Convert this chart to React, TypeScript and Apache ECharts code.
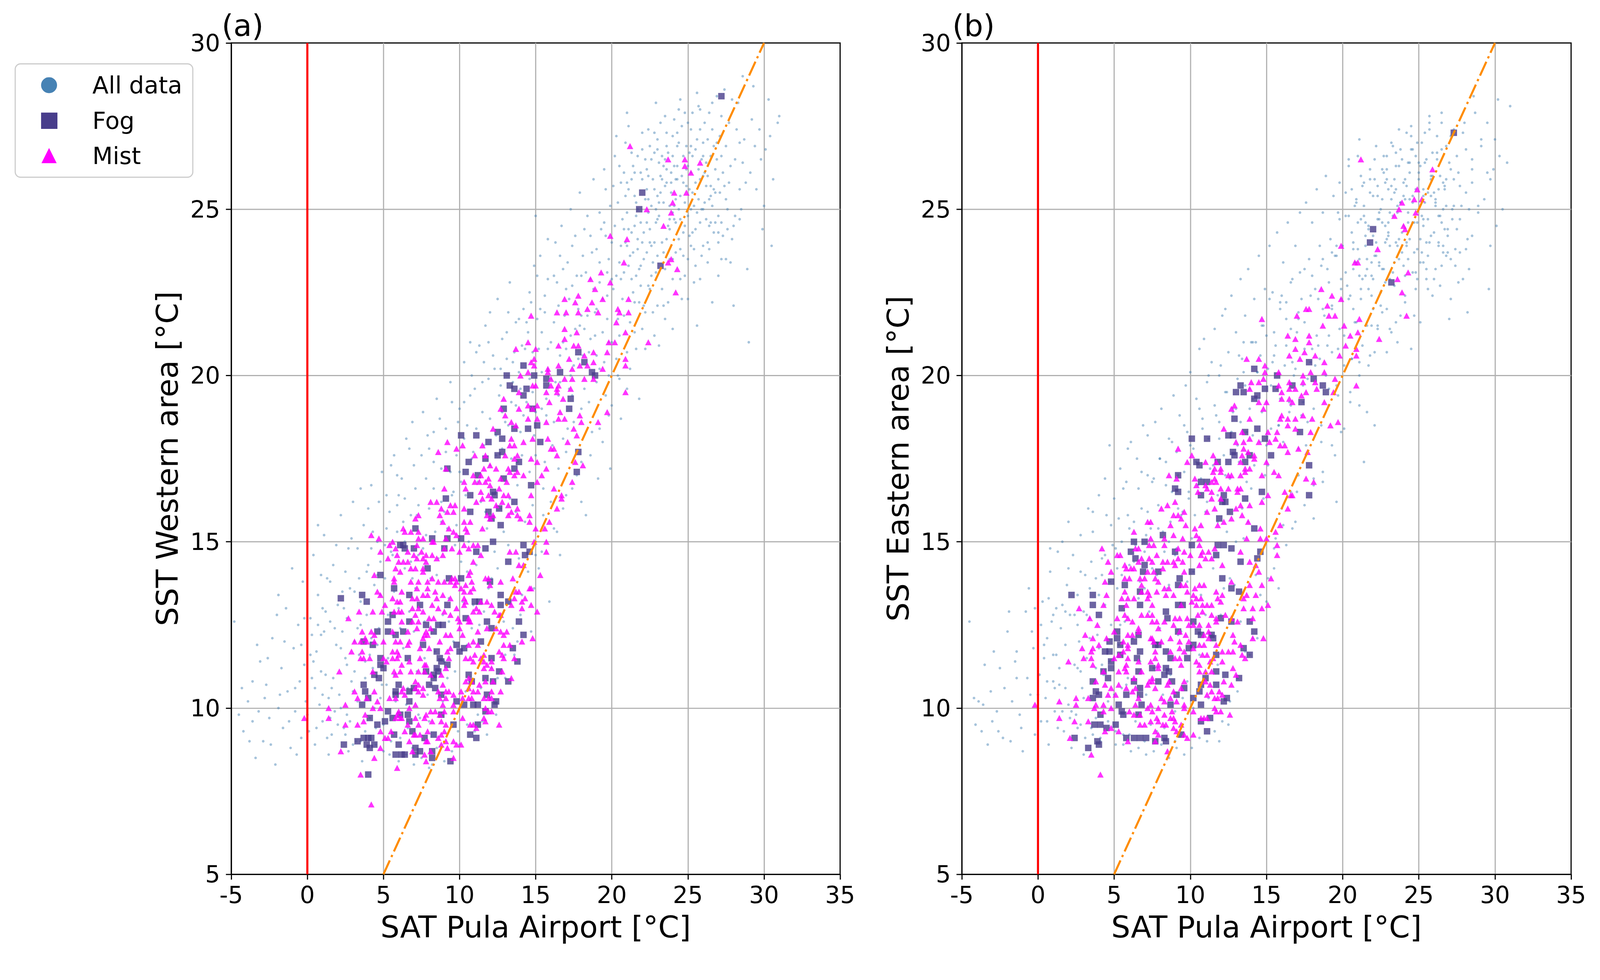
import React, { useEffect, useRef } from "react";
import * as echarts from "echarts";

// ---------- labels ----------
const panelTitles = ["(a)", "(b)"];
const xAxisName = "SAT Pula Airport [°C]";
const yAxisNames = ["SST Western area [°C]", "SST Eastern area [°C]"];
const legendNames = ["All data", "Fog", "Mist"];
const xRange = [-5, 35];
const yRange = [5, 30];
const tickStep = 5;

// ---------- reference lines ----------
const zeroLine = [[0, 5], [0, 30]];
const oneToOneLine = [[5, 5], [30, 30]];

// ---------- panel (a): all data ----------
const allA = [
[-4.8,12.6],[-4.5,9.8],[-4.2,9.3],[-3.9,10.2],[-3.6,9.6],[-3.4,8.5],[-3.1,11.4],[-2.9,9.0],[-2.7,10.7],[-2.5,9.7],[-2.3,12.1],[-2.1,8.3],[-1.9,10.0],[-1.7,11.2],[-1.6,9.4],[-1.4,13.0],[-1.3,10.5],[-1.1,8.8],[-0.9,11.8],[-0.8,9.9],[-0.6,12.5],[-0.5,10.8],[-0.4,9.1],[-0.3,13.8],[-0.2,11.3],[-0.1,10.2],[-2.0,12.8],[-3.3,11.9],[-1.0,14.2],[-0.7,8.6],
[0.1,9.3],[0.2,12.7],[0.3,10.9],[0.4,14.6],[0.5,8.9],[0.6,11.7],[0.7,13.4],[0.8,10.1],[0.9,12.2],[1.0,9.6],[1.1,15.2],[1.2,11.0],[1.3,13.9],[1.4,8.6],[1.5,12.6],[1.6,10.6],[1.7,14.3],[1.8,9.9],[1.9,11.9],[2.0,13.1],[0.4,11.4],[1.2,12.9],[1.6,9.2],[0.9,14.0],
[2.1,10.4],[2.2,15.8],[2.3,12.3],[2.4,9.4],[2.5,14.1],[2.6,11.3],[2.7,8.7],[2.8,13.6],[2.9,10.8],[3.0,16.2],[3.1,12.0],[3.2,9.0],[3.3,14.8],[3.4,11.6],[3.5,13.2],[3.6,8.4],[3.7,15.5],[3.8,10.9],[3.9,12.8],[4.0,14.3],[4.1,9.7],[4.2,16.7],[4.3,11.2],[4.4,13.7],[4.5,8.9],[4.6,15.0],[4.7,12.4],[4.8,10.3],[4.9,17.1],[2.4,13.0],[2.9,15.1],[3.3,10.2],[3.8,9.3],[4.2,12.1],[4.6,14.0],[3.1,11.1],[2.6,9.8],[4.0,16.0],[4.8,13.4],[3.5,12.5],[2.2,11.8],[4.4,10.0],
[5.0,9.5],[5.1,13.9],[5.2,16.4],[5.3,11.5],[5.4,8.6],[5.5,14.7],[5.6,12.2],[5.7,17.6],[5.8,10.2],[5.9,15.3],[6.0,13.0],[6.1,9.1],[6.2,16.9],[6.3,11.8],[6.4,14.2],[6.5,18.1],[6.6,10.6],[6.7,12.9],[6.8,15.8],[6.9,8.8],[7.0,17.3],[7.1,13.6],[7.2,11.1],[7.3,16.1],[7.4,9.7],[5.4,15.9],[5.9,17.0],[6.4,16.3],[6.9,18.6],[7.3,14.6],[5.2,10.7],[6.6,9.4],[7.0,12.3],[5.7,13.5],
[7.6,18.9],[7.7,12.6],[7.8,15.2],[7.9,10.4],[8.0,17.8],[8.1,13.9],[8.2,8.3],[8.3,16.6],[8.4,11.7],[8.5,19.3],[8.6,14.5],[8.7,9.8],[8.8,17.2],[8.9,12.8],[9.0,15.9],[9.1,18.4],[9.2,10.9],[9.3,13.3],[9.4,19.8],[9.5,16.4],[9.6,12.0],[9.7,14.9],[9.8,17.6],[9.9,9.3],[10.0,19.0],[7.8,16.9],[8.3,18.3],[8.8,15.6],[9.4,17.1],[9.8,15.5],[8.0,9.6],[9.0,11.4],
[10.1,16.8],[10.2,13.2],[10.3,20.4],[10.4,10.5],[10.5,18.5],[10.6,15.0],[10.7,21.0],[10.8,12.4],[10.9,17.7],[11.0,19.6],[11.1,14.3],[11.2,9.8],[11.3,20.9],[11.4,16.2],[11.5,18.9],[11.6,12.9],[11.7,21.5],[11.8,15.4],[11.9,19.9],[12.0,17.3],[12.1,11.2],[12.2,20.6],[12.3,14.7],[12.4,18.2],[10.3,19.2],[10.8,20.0],[11.1,18.4],[11.6,20.4],[12.0,21.9],[12.4,16.5],[10.5,14.1],[11.9,13.6],[11.4,10.6],
[12.5,22.3],[12.6,19.4],[12.7,16.0],[12.8,21.1],[12.9,12.6],[13.0,18.6],[13.1,20.5],[13.2,14.9],[13.3,22.8],[13.4,17.5],[13.5,19.8],[13.6,11.6],[13.7,21.6],[13.8,16.7],[13.9,20.1],[14.0,18.3],[14.1,13.4],[14.2,22.0],[14.3,15.6],[14.4,19.2],[14.5,21.3],[14.6,17.1],[14.7,12.3],[14.8,20.7],[14.9,23.3],[12.7,20.2],[13.2,21.9],[13.7,19.1],[14.1,20.9],[14.6,22.5],[13.9,14.5],[14.8,16.1],[12.8,17.8],
[15.0,18.9],[15.1,21.7],[15.2,14.2],[15.3,23.6],[15.4,20.1],[15.5,16.6],[15.6,22.4],[15.7,19.3],[15.8,24.1],[15.9,13.2],[16.0,21.0],[16.1,17.9],[16.2,23.0],[16.3,19.8],[16.4,15.3],[16.5,22.1],[16.6,20.6],[16.7,24.5],[16.8,18.1],[16.9,21.8],[17.0,16.4],[17.1,23.4],[17.2,19.6],[17.3,25.0],[17.4,22.7],[15.3,22.0],[15.8,20.8],[16.3,24.0],[16.8,23.2],[17.3,21.2],[15.6,17.4],[16.6,14.6],[17.1,18.4],[15.0,24.8],
[17.5,20.3],[17.6,24.2],[17.7,17.0],[17.8,22.0],[17.9,25.5],[18.0,19.0],[18.1,23.6],[18.2,21.4],[18.3,15.8],[18.4,24.8],[18.5,20.7],[18.6,22.9],[18.7,18.3],[18.8,25.9],[18.9,21.9],[19.0,23.8],[19.1,16.9],[19.2,20.2],[19.3,24.4],[19.4,22.3],[19.5,26.2],[19.6,19.4],[19.7,23.1],[19.8,21.0],[19.9,25.1],[17.7,23.0],[18.2,24.4],[18.7,23.7],[19.2,24.9],[19.7,22.4],[18.0,21.8],[19.4,18.0],[19.9,17.2],
[20.0,24.0],[20.1,22.6],[20.2,26.6],[20.3,20.5],[20.4,25.2],[20.5,23.4],[20.6,18.7],[20.7,24.7],[20.8,21.8],[20.9,27.0],[21.0,23.9],[21.1,25.6],[21.2,20.2],[21.3,24.3],[21.4,22.5],[21.5,26.1],[21.6,23.0],[21.7,25.0],[21.8,19.3],[21.9,24.6],[22.0,26.8],[22.1,22.1],[22.2,25.3],[22.3,23.7],[22.4,27.4],[20.2,24.5],[20.6,25.8],[21.0,24.9],[21.3,26.7],[21.7,24.1],[22.0,25.9],[22.4,24.9],[20.4,21.7],[21.5,21.3],[22.2,20.8],[20.8,23.1],[21.9,23.3],[22.3,26.2],[21.1,27.5],[20.5,19.9],
[22.5,24.4],[22.6,26.5],[22.7,21.9],[22.8,25.6],[22.9,23.1],[23.0,27.1],[23.1,24.8],[23.2,26.0],[23.3,22.6],[23.4,25.2],[23.5,27.8],[23.6,24.1],[23.7,26.7],[23.8,23.5],[23.9,25.5],[24.0,21.4],[24.1,26.3],[24.2,24.6],[24.3,27.3],[24.4,25.0],[24.5,22.9],[24.6,26.0],[24.7,24.3],[24.8,27.9],[24.9,25.7],[22.6,25.1],[23.0,25.4],[23.3,26.6],[23.6,25.8],[24.0,24.9],[24.3,25.9],[24.7,26.6],[22.8,24.0],[23.5,23.2],[24.2,23.7],[24.8,23.0],[23.1,20.9],[22.9,28.2],[24.5,28.3],[23.8,25.1],[24.1,27.7],[23.4,26.3],
[25.0,26.3],[25.1,24.2],[25.2,27.4],[25.3,25.5],[25.4,22.8],[25.5,26.8],[25.6,24.9],[25.7,28.1],[25.8,25.9],[25.9,23.6],[26.0,27.0],[26.1,25.2],[26.2,26.4],[26.3,24.0],[26.4,27.9],[26.5,25.7],[26.6,22.2],[26.7,26.9],[26.8,24.6],[26.9,28.4],[27.0,25.9],[27.1,27.2],[27.2,23.5],[27.3,26.1],[27.4,28.6],[25.3,26.6],[25.8,27.4],[26.3,26.0],[26.8,25.5],[25.6,21.5],[26.0,25.0],[25.2,25.0],[27.2,24.6],
[27.5,25.3],[27.7,27.6],[27.9,24.1],[28.1,26.5],[28.3,28.2],[28.5,25.0],[28.7,27.1],[28.9,23.2],[29.1,26.1],[29.3,28.7],[29.5,25.6],[29.7,27.4],[29.9,24.4],[30.1,26.8],[30.3,28.3],[30.6,25.9],[30.9,27.6],[28.0,22.1],[29.0,21.0],[30.5,23.9],[31.0,27.8],[28.6,29.0],
[19.2,22.8],[19.5,24.6],[19.8,23.5],[20.1,25.7],[20.3,23.0],[20.5,26.3],[20.7,22.3],[20.9,25.4],[21.1,23.3],[21.3,25.9],[21.5,24.5],[21.7,26.6],[21.9,22.7],[22.1,24.3],[22.3,25.6],[22.5,26.9],[22.7,23.4],[22.9,25.0],[23.1,26.4],[23.3,24.0],[23.5,25.7],[23.7,22.2],[23.9,26.1],[24.1,24.7],[24.3,26.9],[24.5,25.4],[24.7,23.6],[24.9,26.9],[25.1,25.6],[25.3,27.9],[25.5,24.4],[25.7,26.2],[25.9,25.0],[26.1,27.6],[26.3,23.4],[26.5,26.6],[26.7,24.3],[26.9,27.0],[27.1,25.5],[27.3,24.2],[27.5,26.9],[27.7,25.8],[27.9,28.3],[28.1,24.8],[28.4,27.0],[20.0,21.0],[20.6,23.9],[21.2,21.6],[21.8,22.2],[22.4,22.7],[23.0,23.6],[23.6,26.9],[24.2,25.3],[24.8,24.5],[25.4,23.8],[26.0,26.0],[26.6,25.1],[27.2,26.6],[22.0,27.3],[23.2,27.6],[24.4,28.0],[25.6,28.5],[21.4,23.7],[22.6,23.9],[23.8,24.4],[25.0,24.8],[26.2,24.7],[20.8,26.1],[21.6,25.2],[22.8,26.7],[24.0,26.6],[25.2,26.1],[26.4,25.3],[27.6,24.4],[28.8,25.8],[29.4,26.9],[30.0,25.1],[19.6,25.6],[20.3,27.2],[21.0,27.9],[19.0,22.0],[18.6,24.2],[18.3,23.1],[17.9,21.5],[17.4,23.9],[17.0,22.6],[16.6,23.6],[16.2,21.6],[15.8,22.9],[15.4,21.3],[15.1,23.0],[14.7,22.2],[14.3,20.8],[13.9,21.7],[13.5,20.4],[13.1,21.3],[12.7,19.7],[12.3,20.2],[11.9,21.0],[11.5,19.8],[11.1,20.7],[10.7,19.4],[10.3,18.1],[9.9,18.6],[9.5,19.2],[9.1,17.7],[8.7,18.7],[8.3,17.4],[7.9,18.2],[7.5,17.6],[7.1,16.6],[6.7,17.8],[6.3,15.6],[5.9,16.1],[5.5,17.3],[5.1,14.9],[4.7,16.2],[4.3,15.3],[3.9,14.1],[3.5,16.6],[3.1,13.5],[2.7,14.8],[2.3,13.5],[1.9,14.9],[1.5,13.8],[1.1,12.3],[0.7,15.5],[0.3,12.2],
[16.0,16.2],[16.5,17.2],[17.0,17.7],[17.5,18.6],[18.0,17.4],[18.5,19.2],[19.0,19.8],[19.5,20.4],[20.0,19.1],[20.5,21.2],[21.0,20.7],[21.5,22.2],[22.0,21.4],[22.5,22.6],[23.0,22.1],[23.5,21.7],[24.0,22.9],[24.5,23.8],[25.0,22.3],[25.5,23.3],[26.0,23.9],[26.5,24.6],[27.0,23.0],[27.5,23.5],[28.0,24.5],[15.5,15.8],[15.0,14.6],[14.5,14.1],[14.0,12.8],[13.5,12.4],[13.0,11.6],[12.5,10.9],[12.0,10.3],[11.5,9.6],[11.0,9.3],[10.5,9.5],[10.0,8.9],[9.5,8.7],[9.0,8.4],[8.5,8.8],[8.0,8.2],[7.5,8.5],[7.0,8.3],[6.5,8.6],[6.0,8.4],[5.5,9.0],[5.0,8.7],[4.5,9.4],[4.0,8.8],[3.5,9.0],[3.0,8.9],[2.5,9.2],[2.0,9.5],[1.5,9.7],[1.0,10.4],[0.5,10.6],
[5.3,12.8],[6.1,12.4],[6.9,13.9],[7.7,11.5],[8.5,14.0],[9.3,12.6],[10.1,14.4],[10.9,13.1],[11.7,15.9],[12.5,14.2],[13.3,16.3],[14.1,17.6],[14.9,18.2],[15.7,18.8],[16.5,19.4],[17.3,20.0],[18.1,20.6],[18.9,21.2],[19.7,21.7],[4.1,11.6],[4.9,10.7],[5.7,11.0],[6.5,10.1],[7.3,9.8],[8.1,10.7],[8.9,10.2],[9.7,11.1],[10.5,11.9],[11.3,12.5],[12.1,13.9],[12.9,15.3],[13.7,15.9],[3.3,12.4],[2.5,11.5],[1.7,10.9],[0.9,11.1],
[20.6,22.9],[20.8,24.4],[21.0,25.8],[21.2,23.6],[21.4,26.3],[21.6,24.8],[21.8,23.2],[22.0,24.0],[22.2,26.5],[22.4,25.3],[22.6,23.0],[22.8,27.3],[23.0,24.7],[23.2,25.5],[23.4,23.7],[23.6,26.2],[23.8,24.7],[24.0,27.2],[24.2,25.9],[24.4,24.1],[24.6,27.5],[24.8,25.2],[25.0,23.5],[25.2,26.9],[25.4,25.1],[25.6,27.1],[25.8,24.6],[26.0,26.6],[26.2,25.7],[26.4,24.5],[26.6,27.4],[26.8,26.2],[27.0,24.8],[27.2,27.8],[27.4,25.7],[21.1,24.4],[21.5,25.4],[21.9,26.1],[22.3,24.6],[22.7,25.9],[23.1,25.2],[23.5,26.5],[23.9,25.8],[24.3,26.3],[24.7,25.8],[25.1,26.7],[25.5,25.8],[25.9,26.5],[26.3,27.1],[26.7,25.6],[22.1,23.5],[22.5,24.0],[22.9,24.6],[23.3,25.9],[23.7,24.5],[24.1,25.1],[24.5,24.7],[24.9,26.2],[25.3,24.3],[25.7,25.3],[26.1,26.1],[26.5,25.4],[26.9,26.5],[20.9,24.0],[21.3,22.9],[21.7,23.8],[22.4,26.0],[23.0,26.8],[23.6,27.3],[24.4,27.0],[25.0,27.6],[25.8,28.0],[26.6,28.2],[27.8,26.3],[28.2,27.4],[28.6,26.4],[29.2,27.7],[29.8,26.5],[30.4,27.2],[27.0,24.3],[27.6,25.0],[28.4,25.6],
[13.2,18.5],[13.6,20.7],[14.0,19.6],[14.4,21.6],[14.8,19.5],[15.2,20.8],[15.6,21.9],[16.0,19.9],[16.4,22.8],[16.8,21.0],[17.2,22.3],[17.6,21.4],[18.0,23.0],[18.4,21.8],[18.8,22.6],[19.2,23.4],[19.6,24.2],[20.0,22.9],[13.4,19.2],[13.8,17.4],[14.2,18.8],[14.6,19.9],[15.0,17.6],[15.4,19.0],[15.8,20.2],[16.2,18.6],[16.6,19.8],[17.0,20.8],[17.4,19.4],[17.8,20.5],[18.2,19.6],[18.6,21.1],[19.0,20.6],[19.4,21.3],[19.8,20.0],[12.4,17.6],[12.8,18.9],[11.6,17.9],[12.0,18.7],[11.2,16.8],[10.8,17.5],[10.4,16.4],[10.0,17.1],[9.6,16.5],[9.2,15.4],[8.8,16.2],[8.4,15.3],[8.0,16.0],[7.6,14.8],[7.2,15.8],[6.8,14.4],[6.4,15.0],[6.0,16.4],[5.6,14.6],[5.2,15.4],[4.8,14.4],
[-4.3,10.6],[-3.8,9.0],[-3.2,9.9],[-2.8,10.3],[-2.4,8.9],[-1.8,10.4],[-1.5,12.0],[-1.2,9.6],[-0.8,10.6],[-0.4,11.9],[0.0,9.8],[0.2,11.6],[0.6,9.4],[1.0,13.0],[1.4,10.3],[1.8,12.4],[2.2,10.0],[2.6,12.7],[3.0,10.5],[3.4,13.9],[3.8,11.4],[4.2,14.8],[4.6,11.9],[1.3,9.1],[2.8,9.6],[0.7,12.5],[-0.2,12.7],[-2.6,11.5],[-3.6,10.8],[-1.9,13.4],
[14.9,13.6],[15.4,14.7],[16.2,15.4],[16.8,16.0],[17.4,16.6],[18.0,16.2],[18.6,17.6],[19.2,18.4],[19.8,18.8],[20.4,20.0],[21.0,19.6],[21.6,20.8],[22.2,21.9],[22.8,21.2],[23.4,22.1],[24.0,23.5],[24.6,22.3],[25.2,23.9],[25.8,22.9],[26.4,23.8],[27.0,24.0],[27.8,23.4],[28.4,24.7],[13.8,12.0],[13.0,10.9],[12.4,9.8],[11.8,9.2]
];

// ---------- panel (a): fog ----------
const fogA = [
[11.9,18.0],[12.8,18.1],[15.3,18.0],[12.5,17.6],[12.8,17.7],[11.7,17.5],[10.6,17.4],[13.6,17.2],[13.9,17.4],[10.4,17.1],[11.2,17.0],[12.9,16.9],[14.7,16.7],[12.2,16.5],[10.7,16.4],[12.3,16.4],[13.6,16.2],[9.1,16.3],[9.2,17.2],[10.7,15.9],[11.9,15.9],[12.6,16.0],[12.7,15.5],[12.1,15.7],[8.2,15.1],[9.2,15.1],[10.1,15.1],[7.1,15.4],
[6.3,14.9],[6.4,14.8],[6.1,14.9],[7.0,14.8],[9.0,14.8],[12.2,15.0],[11.7,14.8],[11.1,14.7],[14.2,14.9],[14.6,14.7],[14.3,14.6],[13.2,14.4],[7.9,14.2],[4.8,14.0],[10.1,13.9],[9.3,13.9],[12.0,13.8],[5.7,13.6],[6.7,13.4],[12.7,13.4],[3.6,13.4],[2.2,13.3],[3.9,13.2],[9.2,13.1],[7.4,13.1],[11.0,13.2],[11.3,13.2],[12.7,13.1],[13.2,13.2],
[5.6,12.8],[5.3,12.6],[6.7,12.6],[7.8,12.5],[8.6,12.5],[8.9,12.5],[10.4,12.7],[11.8,12.6],[12.1,12.4],[13.9,12.6],[14.2,12.2],[4.6,12.3],[5.3,12.3],[5.8,12.2],[6.3,12.3],[8.3,12.3],[7.6,11.9],[3.7,12.0],[4.3,11.9],[9.8,11.9],[10.3,11.8],[10.0,11.7],[11.4,12.0],[8.5,11.7],[8.7,11.5],[8.8,11.4],[6.6,11.5],[4.8,11.5],[9.2,11.3],[12.1,11.5],[13.8,11.4],[13.5,11.8],
[4.8,11.3],[5.0,11.2],[4.4,11.0],[4.7,10.9],[8.5,11.2],[7.8,11.1],[8.3,11.0],[8.6,11.1],[8.3,10.9],[10.6,11.0],[11.7,10.9],[12.6,11.1],[12.2,10.8],[13.2,10.8],[10.8,10.8],[3.7,10.7],[3.8,10.5],[4.0,10.3],[6.0,10.7],[5.8,10.5],[6.7,10.5],[7.0,10.6],[8.0,10.7],[8.4,10.6],[6.7,10.2],[5.8,10.4],[3.6,10.1],[8.8,10.4],[9.8,10.2],[10.3,10.1],[10.9,10.1],[11.2,10.1],[11.8,10.4],[12.4,10.2],[12.3,10.1],[11.7,9.9],
[5.3,9.9],[5.6,9.7],[6.1,9.8],[6.6,9.8],[6.7,9.6],[5.1,9.6],[4.1,9.7],[4.6,9.5],[8.8,9.8],[9.6,9.5],[11.2,9.5],[10.7,9.2],[11.1,9.1],[6.9,9.3],[5.7,9.2],[7.7,9.1],[8.3,9.2],[3.3,9.0],[3.7,9.1],[4.0,9.1],[4.2,9.1],[3.9,8.9],[4.1,8.8],[4.4,8.9],[2.4,8.9],[6.0,8.9],[5.8,8.6],[6.2,8.6],[6.4,8.6],[7.1,8.8],[7.1,8.6],[7.4,8.7],[8.2,8.7],[8.2,8.5],[9.4,8.4],[4.0,8.0],
[22.0,25.5],[21.8,25.0],[23.2,23.3],[17.8,20.7],[18.2,20.4],[14.2,20.3],[13.1,20.0],[14.9,20.0],[15.7,19.9],[16.6,20.1],[18.7,20.1],[18.9,20.0],[13.3,19.7],[13.6,19.6],[14.4,19.6],[15.7,19.7],[14.2,19.4],[17.3,19.3],[12.9,19.0],[14.8,19.0],[17.2,19.0],[15.1,18.5],[13.6,18.4],[14.5,18.4],[12.5,18.3],[10.1,18.2],[11.1,18.2],[17.8,17.7],[17.7,17.1],[27.2,28.4]
];

// ---------- panel (a): mist ----------
const mistA = [
[9.2,18.0],[9.8,17.8],[10.2,17.9],[11.5,17.9],[13.4,18.1],[13.3,17.9],[13.6,17.9],[14.2,18.0],[14.8,18.1],[15.8,18.1],[16.0,17.8],[16.2,17.8],[16.4,17.6],[8.6,17.7],[11.0,17.6],[11.7,17.6],[13.0,17.6],[13.8,17.6],[13.6,17.5],[14.7,17.5],[15.1,17.4],[11.6,17.2],[12.0,17.3],[12.4,17.2],[13.2,17.2],[13.3,17.1],[13.8,17.1],[14.2,17.0],[15.7,17.2],[15.4,17.0],[9.1,17.2],[13.6,17.0],[12.7,16.9],[11.4,17.0],[11.9,16.9],[10.9,17.0],
[10.3,16.8],[11.0,16.8],[11.3,16.8],[11.7,16.8],[12.0,16.7],[12.6,16.6],[13.1,16.8],[15.1,16.8],[9.0,16.6],[10.4,16.6],[11.4,16.5],[11.9,16.4],[12.9,16.4],[13.2,16.4],[14.7,16.4],[16.2,16.6],[16.7,16.4],[8.5,16.2],[8.1,16.2],[9.4,16.1],[9.7,16.1],[11.1,16.2],[11.5,16.3],[12.1,16.3],[12.8,16.2],[10.3,16.0],[8.8,16.0],[9.2,15.9],[9.6,15.9],[12.4,16.1],[13.2,16.1],[13.8,16.0],[16.4,16.0],
[8.7,15.8],[11.8,15.8],[12.2,15.8],[13.2,15.8],[13.4,15.9],[13.8,15.8],[14.0,15.7],[14.6,15.8],[7.3,15.8],[7.1,15.7],[8.9,15.6],[10.3,15.6],[10.7,15.6],[12.0,15.7],[14.6,15.6],[15.9,15.6],[15.0,15.4],[15.6,15.4],[11.5,15.4],[10.4,15.4],[10.5,15.3],[6.3,15.4],[6.4,15.3],[6.8,15.3],[7.3,15.3],[9.3,15.4],[9.6,15.3],[9.8,15.2],[9.1,15.1],[7.3,15.1],[7.6,15.1],[8.2,15.0],[8.3,15.0],[4.2,15.2],[4.7,15.1],[5.6,15.0],[15.7,15.0],[14.9,15.0],
[5.4,14.9],[5.8,14.8],[7.2,14.9],[9.0,14.8],[9.5,14.8],[10.3,14.9],[10.6,14.8],[10.9,14.9],[11.2,14.9],[13.3,14.7],[13.7,14.7],[15.7,14.7],[4.8,14.7],[5.9,14.6],[6.6,14.7],[7.0,14.6],[7.5,14.7],[7.8,14.6],[10.0,14.7],[5.3,14.5],[6.0,14.4],[6.3,14.4],[6.6,14.4],[7.2,14.5],[7.6,14.5],[7.8,14.4],[8.2,14.6],[8.5,14.5],[8.9,14.6],[10.9,14.4],[11.4,14.6],[13.9,14.3],[14.2,14.3],[6.8,14.2],[7.1,14.2],[7.6,14.2],[5.8,14.2],[6.1,14.1],[7.6,14.1],
[4.4,14.0],[5.7,13.9],[5.7,13.8],[8.2,13.9],[10.7,14.1],[10.6,14.0],[11.7,13.9],[11.9,13.9],[12.7,13.8],[13.5,13.9],[15.3,14.0],[9.5,13.9],[9.7,13.9],[9.8,13.8],[9.4,13.8],[9.7,13.7],[10.4,13.7],[10.8,13.8],[10.9,13.6],[12.0,13.7],[14.6,13.6],[14.7,13.6],[6.8,13.8],[7.3,13.8],[7.9,13.8],[8.6,13.8],[9.0,13.8],[4.6,13.5],[4.8,13.4],[6.2,13.5],[7.2,13.6],[7.9,13.6],[8.4,13.5],[10.1,13.6],[10.3,13.5],[10.7,13.5],[13.7,13.5],[13.9,13.5],[13.6,13.3],[8.9,13.4],[9.4,13.3],[8.5,13.3],[10.3,13.3],[10.4,13.2],[5.6,13.3],[5.9,13.2],[6.1,13.2],[6.9,13.3],[7.2,13.3],[7.6,13.4],[7.9,13.4],[11.4,13.2],[11.8,13.2],[12.1,13.1],[14.1,13.2],[14.3,13.3],
[5.1,13.1],[6.9,13.0],[7.3,13.0],[8.2,13.1],[8.6,13.0],[10.3,13.1],[11.1,13.0],[12.3,12.9],[12.7,12.8],[13.4,13.1],[14.1,13.0],[14.7,13.1],[15.1,12.9],[9.8,13.0],[2.7,12.7],[3.4,12.9],[4.3,12.9],[4.9,12.9],[5.7,12.9],[6.0,12.9],[6.2,12.9],[7.6,12.9],[8.0,12.7],[8.3,12.7],[9.0,12.9],[9.4,12.8],[9.9,12.7],[10.0,12.6],[10.6,12.7],[10.9,12.9],[11.3,12.9],[12.6,12.8],[7.1,12.8],[6.2,12.6],[6.9,12.6],[7.3,12.6],[8.1,12.4],[10.0,12.4],[10.6,12.6],[10.7,12.6],[3.6,12.3],[4.2,12.3],[5.6,12.3],[6.6,12.3],[7.2,12.4],[7.8,12.3],[7.7,12.2],[11.2,12.3],[11.8,12.4],[12.4,12.4],[12.7,12.3],[13.1,12.3],[12.9,12.2],[9.1,12.2],[9.4,12.2],
[3.1,12.0],[3.5,12.0],[3.8,12.1],[3.9,12.0],[4.4,12.2],[4.4,12.0],[5.0,12.0],[5.8,12.0],[6.1,12.0],[6.7,12.0],[7.6,12.1],[7.9,12.2],[8.7,12.0],[10.2,12.2],[10.6,11.9],[10.9,12.0],[11.2,11.9],[13.3,11.9],[14.1,12.0],[14.8,12.1],[12.9,11.9],[2.9,11.7],[3.6,11.7],[3.7,11.5],[4.1,11.5],[5.6,11.7],[5.9,11.7],[6.0,11.6],[6.6,11.9],[7.4,11.8],[8.0,11.8],[9.2,11.7],[9.4,11.8],[11.0,11.6],[11.6,11.6],[12.6,11.7],[12.8,11.6],[3.5,11.5],[5.0,11.5],[5.2,11.4],[5.6,11.5],[5.9,11.5],[6.7,11.4],[7.4,11.5],[9.3,11.5],[10.7,11.5],[11.4,11.5],[12.9,11.5],[13.6,11.5],[6.2,11.3],[7.7,11.3],[7.8,11.3],[11.6,11.4],[11.8,11.3],[12.1,11.4],[10.9,11.4],[10.4,11.5],
[2.1,11.1],[4.3,11.1],[5.7,11.1],[5.8,11.0],[6.1,11.1],[6.8,11.1],[7.3,11.1],[8.1,11.0],[7.7,11.1],[8.8,11.0],[9.1,11.2],[10.6,10.9],[11.6,11.2],[12.1,11.2],[12.8,11.1],[13.4,10.9],[3.1,10.5],[4.4,10.5],[7.1,10.8],[7.3,10.7],[7.6,10.6],[7.1,10.6],[7.3,10.5],[7.6,10.4],[6.3,10.6],[6.2,10.5],[6.4,10.4],[5.4,10.3],[5.8,10.3],[8.6,10.5],[8.9,10.7],[9.1,10.5],[9.3,10.5],[8.7,10.3],[9.1,10.3],[9.6,10.4],[10.1,10.5],[10.4,10.8],[10.8,10.8],[10.6,10.6],[10.9,10.5],[11.2,10.5],[11.3,10.7],[11.7,10.8],[12.2,10.8],[12.1,10.5],[12.7,10.5],[10.6,10.3],[10.8,10.3],[11.6,10.3],[11.9,10.3],[12.1,10.3],[3.3,10.3],[3.9,10.3],[4.6,10.2],[2.5,10.1],[9.6,10.1],[8.9,10.1],[10.2,10.3],
[1.4,10.0],[4.3,10.0],[4.8,10.0],[6.0,9.9],[6.7,10.0],[7.1,10.1],[8.1,9.9],[8.4,9.9],[9.0,9.9],[9.6,9.9],[11.7,10.0],[11.9,9.9],[12.1,9.9],[3.8,9.8],[5.9,9.8],[6.1,9.7],[7.7,9.7],[7.1,9.7],[8.7,9.8],[1.4,9.7],[3.7,9.6],[5.8,9.7],[6.2,9.7],[7.8,9.8],[8.2,9.6],[8.8,9.6],[9.1,9.5],[10.2,9.7],[11.6,9.7],[11.7,9.6],[2.5,9.5],[3.3,9.5],[7.3,9.5],[6.6,9.5],[10.7,9.5],[10.9,9.5],[12.6,9.5],[4.8,9.3],[5.5,9.3],[6.4,9.3],[7.1,9.2],[7.4,9.2],[7.9,9.3],[8.8,9.2],[9.0,9.3],[11.1,9.4],[5.1,9.1],[5.3,9.1],[7.9,9.0],[8.6,9.1],[9.1,9.0],[9.6,9.0],[9.8,8.9],[10.1,8.9],[7.0,9.2],
[2.2,8.7],[4.8,8.8],[6.7,9.0],[7.8,9.0],[8.8,8.9],[9.2,8.8],[6.9,8.7],[7.7,8.6],[8.1,8.7],[4.4,8.5],[7.8,8.4],[9.6,8.5],[5.9,8.2],[3.5,8.0],[4.2,7.1],[-0.2,9.7],
[21.2,26.9],[23.7,26.5],[24.8,26.5],[24.8,26.3],[25.8,26.4],[25.2,26.1],[24.1,25.5],[24.9,25.5],[24.0,25.2],[22.3,25.0],[23.9,24.9],[23.4,24.5],[19.9,24.2],[21.0,24.1],[20.8,23.4],[23.7,23.4],[23.9,23.5],[24.3,23.2],[24.2,22.5],[19.3,23.1],[18.6,22.9],[18.9,22.6],[19.9,22.8],[16.9,22.3],[17.8,22.4],[17.6,22.2],[18.7,22.2],[19.4,22.3],[21.1,22.3],[16.4,21.9],[17.0,21.9],[17.8,21.9],[18.4,22.0],[19.1,21.9],[20.4,22.0],[20.5,21.9],[21.1,21.9],[14.7,21.8],[20.3,21.6],[16.9,21.4],[17.7,21.3],[16.9,21.1],[20.9,21.3],[20.2,21.0],[22.4,21.0],[16.5,20.9],[17.5,20.9],[17.8,20.9],[19.8,21.0],[13.7,20.8],[14.5,21.0],[15.0,20.8],[17.2,20.5],[18.2,20.6],[18.8,20.7],[19.7,20.7],[20.9,20.5],[20.9,20.3],[14.7,20.4],[14.9,20.5],[16.5,20.3],[17.4,20.2],[17.9,20.3],[18.4,20.3],[18.8,20.4],[19.4,20.2],[15.8,20.2],[15.8,20.1],[14.5,20.1],[14.9,20.3],[14.0,20.0],[16.0,19.9],[16.9,19.9],[17.4,19.9],[18.2,19.9],[18.8,19.9],[20.9,19.5],[15.0,19.7],[14.8,19.7],[16.5,19.7],[16.0,19.7],[13.9,19.5],[16.4,19.6],[17.3,19.6],[15.7,19.5],[16.4,19.5],[16.8,19.3],[12.9,19.3],[12.7,19.0],[13.0,18.8],[13.9,19.0],[14.8,19.0],[14.5,19.1],[15.1,19.1],[15.9,19.2],[16.6,18.9],[16.5,18.7],[16.9,18.7],[17.9,18.8],[19.7,18.9],[18.0,18.6],[19.1,18.6],[13.4,18.6],[13.7,18.5],[14.5,18.7],[15.1,18.7],[15.7,18.6],[17.5,18.4],[17.7,18.2],[17.1,18.0],[12.2,18.4],[17.6,17.4],[18.1,17.3],[17.4,16.8],[16.7,16.3]
];

// ---------- panel (b): all data ----------
const allB = [
[-4.5,12.6],[-4.1,9.5],[-3.9,10.2],[-3.6,10.1],[-3.3,8.9],[-3.0,9.6],[-2.9,11.7],[-2.6,9.3],[-2.2,10.6],[-2.0,12.3],[-1.8,9.0],[-1.5,11.4],[-1.2,9.8],[-1.0,8.7],[-0.8,12.9],[-0.6,13.6],[-0.5,10.4],[-0.3,11.8],[-0.2,9.2],[-1.4,10.9],
[0.1,11.0],[0.2,9.6],[0.3,13.2],[0.5,10.3],[0.6,12.1],[0.7,8.9],[0.8,14.1],[1.0,11.6],[1.1,9.9],[1.2,13.0],[1.4,10.7],[1.5,12.4],[1.6,15.0],[1.7,9.3],[1.8,11.9],[1.9,13.7],[2.0,10.1],[2.1,12.8],[2.2,8.8],[2.3,14.6],[2.4,11.3],[0.9,12.6],[1.3,14.7],[0.4,11.9],[2.0,15.6],
[2.5,9.8],[2.6,13.4],[2.7,12.0],[2.8,15.2],[2.9,10.6],[3.0,8.6],[3.1,14.0],[3.2,11.5],[3.3,16.0],[3.4,12.7],[3.5,9.4],[3.6,15.3],[3.7,10.8],[3.8,13.9],[3.9,12.2],[4.0,16.4],[4.1,9.1],[4.2,14.5],[4.3,11.0],[4.4,13.1],[4.5,15.8],[4.6,10.2],[4.7,17.9],[4.8,12.5],[4.9,14.9],[3.0,12.9],[3.5,14.4],[4.0,11.8],[4.4,16.9],[2.8,11.1],[3.8,9.7],[4.7,11.4],
[5.0,16.3],[5.1,9.3],[5.2,13.6],[5.3,11.9],[5.4,17.2],[5.5,15.0],[5.6,8.9],[5.7,12.6],[5.8,16.8],[5.9,10.9],[6.0,14.3],[6.1,18.0],[6.2,12.1],[6.3,15.6],[6.4,9.6],[6.5,17.5],[6.6,13.3],[6.7,11.4],[6.8,16.0],[6.9,18.5],[7.0,14.7],[7.1,10.4],[7.2,17.0],[7.3,12.9],[7.4,15.4],[5.3,15.7],[5.9,17.8],[6.6,16.6],[7.2,18.2],[6.0,9.2],[7.0,9.0],[5.5,10.6],
[7.5,16.8],[7.6,11.2],[7.7,18.6],[7.8,14.0],[7.9,16.1],[8.0,12.4],[8.1,19.0],[8.2,15.3],[8.3,9.4],[8.4,17.4],[8.5,13.6],[8.6,18.1],[8.7,11.0],[8.8,16.5],[8.9,19.4],[9.0,14.6],[9.1,17.7],[9.2,12.2],[9.3,18.8],[9.4,15.8],[9.5,10.3],[9.6,17.1],[9.7,19.7],[9.8,13.8],[9.9,16.3],[8.0,17.5],[8.6,15.0],[9.2,16.0],[9.8,18.3],[7.8,9.3],[9.0,9.0],
[10.0,20.1],[10.1,15.1],[10.2,17.8],[10.3,11.8],[10.4,19.3],[10.5,16.7],[10.6,20.8],[10.7,13.4],[10.8,18.4],[10.9,21.1],[11.0,15.9],[11.1,19.8],[11.2,10.3],[11.3,17.2],[11.4,20.4],[11.5,14.2],[11.6,21.4],[11.7,18.8],[11.8,16.4],[11.9,20.0],[12.0,12.8],[12.1,21.8],[12.2,17.6],[12.3,19.5],[12.4,15.3],[10.6,19.0],[11.2,18.1],[11.9,18.6],[12.3,22.0],[10.2,10.0],[11.8,11.3],
[12.5,20.7],[12.6,16.9],[12.7,22.4],[12.8,18.9],[12.9,13.7],[13.0,21.3],[13.1,19.9],[13.2,17.4],[13.3,22.9],[13.4,20.5],[13.5,15.1],[13.6,21.8],[13.7,18.3],[13.8,23.2],[13.9,19.6],[14.0,16.6],[14.1,21.0],[14.2,22.3],[14.3,14.0],[14.4,20.1],[14.5,23.6],[14.6,18.0],[14.7,21.5],[14.8,16.3],[14.9,22.6],[13.0,19.0],[13.5,21.0],[14.1,19.3],[14.6,20.6],[13.3,12.6],[14.4,12.1],
[15.0,21.2],[15.1,17.3],[15.2,23.9],[15.3,19.7],[15.4,22.5],[15.5,14.8],[15.6,20.9],[15.7,24.3],[15.8,18.5],[15.9,22.0],[16.0,16.0],[16.1,23.4],[16.2,20.3],[16.3,21.7],[16.4,24.6],[16.5,18.9],[16.6,22.8],[16.7,15.4],[16.8,20.0],[16.9,23.9],[17.0,21.3],[17.1,17.8],[17.2,24.9],[17.3,22.3],[17.4,19.2],[15.4,20.4],[16.0,22.4],[16.6,21.4],[17.2,23.1],[15.8,13.6],[17.0,16.5],
[17.5,21.6],[17.6,25.2],[17.7,18.6],[17.8,23.5],[17.9,20.4],[18.0,24.6],[18.1,16.9],[18.2,22.6],[18.3,25.6],[18.4,20.9],[18.5,23.9],[18.6,18.0],[18.7,24.9],[18.8,21.8],[18.9,26.0],[19.0,23.2],[19.1,19.6],[19.2,24.1],[19.3,22.0],[19.4,25.4],[19.5,17.6],[19.6,23.6],[19.7,20.8],[19.8,24.7],[19.9,22.6],[18.0,23.0],[18.6,23.3],[19.3,23.7],[19.8,25.8],[18.7,16.8],[19.6,16.2],
[20.0,23.9],[20.1,21.2],[20.2,25.5],[20.3,22.7],[20.4,26.3],[20.5,19.2],[20.6,24.3],[20.7,22.0],[20.8,25.1],[20.9,23.4],[21.0,26.6],[21.1,20.4],[21.2,24.7],[21.3,22.9],[21.4,25.8],[21.5,23.9],[21.6,18.9],[21.7,24.4],[21.8,26.2],[21.9,22.4],[22.0,25.4],[22.1,23.6],[22.2,26.9],[22.3,21.5],[22.4,24.9],[20.2,23.1],[20.7,24.0],[21.1,23.5],[21.5,24.6],[22.0,24.2],[22.3,25.7],[20.9,21.6],[21.8,20.6],[22.1,18.5],[21.4,17.4],[20.4,24.8],[21.9,23.0],[22.4,23.3],[20.6,20.5],[21.2,26.0],
[22.5,25.0],[22.6,23.2],[22.7,26.1],[22.8,24.5],[22.9,22.0],[23.0,25.6],[23.1,23.9],[23.2,27.0],[23.3,24.8],[23.4,22.7],[23.5,26.3],[23.6,25.1],[23.7,23.5],[23.8,26.8],[23.9,24.3],[24.0,25.8],[24.1,22.4],[24.2,27.3],[24.3,24.9],[24.4,26.1],[24.5,20.8],[24.6,25.4],[24.7,23.7],[24.8,26.6],[24.9,24.6],[22.6,24.6],[23.0,24.2],[23.4,25.5],[23.8,25.2],[24.2,24.0],[24.6,26.8],[22.8,25.8],[23.5,24.0],[24.0,23.3],[24.4,25.3],[23.2,21.3],[24.5,27.5],[23.7,27.4],[22.9,26.6],[24.8,22.6],
[25.0,25.9],[25.1,23.4],[25.2,27.0],[25.3,24.7],[25.4,26.4],[25.5,22.9],[25.6,25.5],[25.7,27.6],[25.8,24.2],[25.9,26.7],[26.0,22.9],[26.1,25.2],[26.2,27.2],[26.3,24.8],[26.4,26.0],[26.5,27.9],[26.6,23.7],[26.7,25.7],[26.8,26.9],[26.9,24.4],[27.0,21.7],[27.1,26.2],[27.2,25.0],[27.3,27.4],[27.4,23.8],[25.3,25.6],[25.8,26.0],[26.3,25.6],[26.8,25.1],[25.5,24.0],
[27.5,26.6],[27.7,24.7],[27.9,27.3],[28.1,25.5],[28.3,23.2],[28.5,26.5],[28.7,27.9],[28.9,24.9],[29.1,26.9],[29.3,25.3],[29.5,27.6],[29.7,23.9],[29.9,26.2],[30.2,28.3],[30.5,25.0],[30.8,26.4],[31.0,28.1],[28.2,21.9],[29.6,22.6],[30.0,27.1],[28.6,28.4],
[19.3,22.1],[19.6,23.9],[19.9,22.9],[20.2,24.8],[20.4,22.3],[20.6,25.6],[20.8,21.6],[21.0,24.6],[21.2,22.6],[21.4,25.1],[21.6,23.5],[21.8,25.9],[22.0,22.0],[22.2,23.6],[22.4,24.7],[22.6,26.2],[22.8,22.8],[23.0,24.3],[23.2,25.7],[23.4,23.4],[23.6,24.9],[23.8,21.8],[24.0,25.4],[24.2,23.9],[24.4,26.4],[24.6,24.6],[24.8,23.1],[25.0,26.4],[25.2,24.8],[25.4,27.3],[25.6,23.6],[25.8,25.4],[26.0,24.3],[26.2,26.7],[26.4,22.7],[26.6,25.8],[26.8,23.6],[27.0,26.4],[27.2,24.7],[27.4,23.3],[27.6,26.1],[27.8,25.1],[28.0,27.6],[28.2,24.1],[28.5,26.2],[20.1,20.3],[20.7,23.2],[21.3,20.9],[21.9,21.5],[22.5,22.1],[23.1,22.9],[23.7,26.3],[24.3,24.6],[24.9,23.8],[25.5,23.2],[26.1,25.3],[26.7,24.4],[27.3,25.9],[22.1,26.5],[23.3,26.9],[24.5,27.2],[25.7,27.8],[21.5,23.0],[22.7,23.2],[23.9,23.7],[25.1,24.1],[26.3,24.0],[20.9,25.3],[21.7,24.5],[22.9,25.9],[24.1,25.9],[25.3,25.4],[26.5,24.6],[27.7,23.7],[28.9,25.1],[29.5,26.1],[30.1,24.5],[19.7,24.9],[20.4,26.5],[21.1,27.1],[19.1,21.2],[18.7,23.5],[18.4,22.3],[18.0,20.8],[17.5,23.2],[17.1,21.9],[16.7,22.9],[16.3,20.9],[15.9,22.2],[15.5,20.6],[15.2,22.3],[14.8,21.5],[14.4,20.1],[14.0,21.0],[13.6,19.7],[13.2,20.6],[12.8,19.0],[12.4,19.5],[12.0,20.3],[11.6,19.1],[11.2,20.0],[10.8,18.7],[10.4,17.4],[10.0,17.9],[9.6,18.5],[9.2,17.0],[8.8,18.0],[8.4,16.7],[8.0,17.5],[7.6,16.9],[7.2,15.9],[6.8,17.1],[6.4,14.9],[6.0,15.4],[5.6,16.6],[5.2,14.2],[4.8,15.5],[4.4,14.6],[4.0,13.4],[3.6,15.9],[3.2,12.8],[2.8,14.1],[2.4,12.8],[2.0,14.2],[1.6,13.1],[1.2,11.6],[0.8,14.8],[0.4,11.5],
[16.1,15.5],[16.6,16.5],[17.1,17.0],[17.6,17.9],[18.1,16.7],[18.6,18.5],[19.1,19.1],[19.6,19.7],[20.1,18.4],[20.6,20.5],[21.1,20.0],[21.6,21.5],[22.1,20.7],[22.6,21.9],[23.1,21.4],[23.6,21.0],[24.1,22.2],[24.6,23.1],[25.1,21.6],[25.6,22.6],[26.1,23.2],[26.6,23.9],[27.1,22.3],[27.6,22.8],[28.1,23.8],[15.6,15.1],[15.1,13.9],[14.6,13.4],[14.1,12.1],[13.6,11.7],[13.1,10.9],[12.6,10.2],[12.1,9.6],[11.6,9.3],[11.1,9.0],[10.6,9.1],[10.1,8.8],[9.6,8.6],[9.1,8.8],[8.6,8.5],[8.1,8.9],[7.6,8.7],[7.1,8.6],[6.6,8.8],[6.1,8.7],[5.6,9.2],[5.1,8.9],[4.6,9.6],[4.1,9.0],[3.6,9.2],[3.1,9.1],[2.6,9.4],[2.1,9.7],[1.6,9.9],[1.1,10.6],[0.6,10.8],
[5.4,12.5],[6.2,12.1],[7.0,13.6],[7.8,11.2],[8.6,13.7],[9.4,12.3],[10.2,14.1],[11.0,12.8],[11.8,15.6],[12.6,13.9],[13.4,16.0],[14.2,17.3],[15.0,17.9],[15.8,18.5],[16.6,19.1],[17.4,19.7],[18.2,20.3],[19.0,20.9],[19.8,21.4],[4.2,11.3],[5.0,10.4],[5.8,10.7],[6.6,9.8],[7.4,9.5],[8.2,10.4],[9.0,9.9],[9.8,10.8],[10.6,11.6],[11.4,12.2],[12.2,13.6],[13.0,15.0],[13.8,15.6],[3.4,12.1],[2.6,11.2],[1.8,10.6],[1.0,10.8],
[20.5,22.4],[20.7,23.8],[20.9,25.2],[21.1,23.0],[21.3,25.7],[21.5,24.2],[21.7,22.6],[21.9,23.4],[22.1,25.9],[22.3,24.7],[22.5,22.5],[22.7,26.6],[22.9,24.1],[23.1,24.9],[23.3,23.1],[23.5,25.6],[23.7,24.1],[23.9,26.5],[24.1,25.3],[24.3,23.5],[24.5,26.8],[24.7,24.6],[24.9,22.9],[25.1,26.3],[25.3,24.5],[25.5,26.5],[25.7,24.0],[25.9,26.0],[26.1,25.1],[26.3,23.9],[26.5,26.8],[26.7,25.6],[26.9,24.2],[27.1,27.2],[27.3,25.1],[21.0,23.8],[21.4,24.8],[21.8,25.5],[22.2,24.0],[22.6,25.3],[23.0,24.6],[23.4,25.9],[23.8,25.2],[24.2,25.7],[24.6,25.2],[25.0,26.1],[25.4,25.2],[25.8,25.9],[26.2,26.5],[26.6,25.0],[22.0,22.9],[22.4,23.4],[22.8,24.0],[23.2,25.3],[23.6,23.9],[24.0,24.5],[24.4,24.1],[24.8,25.6],[25.2,23.7],[25.6,24.7],[26.0,25.5],[26.4,24.8],[26.8,25.9],[20.8,23.4],[21.2,22.3],[21.6,23.2],[22.3,25.4],[22.9,26.2],[23.5,26.7],[24.3,26.4],[24.9,27.0],[25.7,27.4],[26.5,27.6],[27.7,25.7],[28.1,26.8],[28.5,25.8],[29.1,27.1],[29.7,25.9],[30.3,26.6],[26.9,23.7],[27.5,24.4],[28.3,25.0],
[13.1,17.9],[13.5,20.1],[13.9,19.0],[14.3,21.0],[14.7,18.9],[15.1,20.2],[15.5,21.3],[15.9,19.3],[16.3,22.2],[16.7,20.4],[17.1,21.7],[17.5,20.8],[17.9,22.4],[18.3,21.2],[18.7,22.0],[19.1,22.8],[19.5,23.6],[19.9,22.3],[13.3,18.6],[13.7,16.8],[14.1,18.2],[14.5,19.3],[14.9,17.0],[15.3,18.4],[15.7,19.6],[16.1,18.0],[16.5,19.2],[16.9,20.2],[17.3,18.8],[17.7,19.9],[18.1,19.0],[18.5,20.5],[18.9,20.0],[19.3,20.7],[19.7,19.4],[12.3,17.0],[12.7,18.3],[11.5,17.3],[11.9,18.1],[11.1,16.2],[10.7,16.9],[10.3,15.8],[9.9,16.5],[9.5,15.9],[9.1,14.8],[8.7,15.6],[8.3,14.7],[7.9,15.4],[7.5,14.2],[7.1,15.2],[6.7,13.8],[6.3,14.4],[5.9,15.8],[5.5,14.0],[5.1,14.8],[4.7,13.8],
[-4.2,10.3],[-3.7,9.3],[-3.1,10.5],[-2.7,9.9],[-2.3,9.1],[-1.7,10.2],[-1.4,11.7],[-1.1,9.4],[-0.7,10.9],[-0.4,12.3],[0.0,10.4],[0.2,12.5],[0.6,9.6],[1.0,12.8],[1.4,11.2],[1.8,12.9],[2.2,9.9],[2.6,12.5],[3.0,10.3],[3.4,13.6],[3.8,11.2],[4.2,14.0],[4.6,11.7],[1.3,9.4],[2.8,9.5],[0.7,13.3],[-0.2,13.0],[-2.5,11.2],[-3.5,11.3],[-1.9,12.9],
[15.0,13.2],[15.5,14.2],[16.3,14.9],[16.9,15.6],[17.5,16.1],[18.1,15.7],[18.7,17.1],[19.3,17.9],[19.9,18.3],[20.5,19.5],[21.1,19.1],[21.7,20.3],[22.3,21.4],[22.9,20.7],[23.5,21.6],[24.1,23.0],[24.7,21.8],[25.3,23.4],[25.9,22.4],[26.5,23.3],[27.1,23.5],[27.9,22.9],[28.5,24.2],[13.9,11.6],[13.1,10.5],[12.5,9.5],[11.9,9.0]
];

// ---------- panel (b): fog ----------
const fogB = [
[10.1,18.1],[11.1,18.1],[12.8,17.7],[12.9,17.6],[12.5,17.4],[11.8,17.4],[15.3,17.6],[13.6,17.4],[13.9,17.6],[10.4,17.4],[10.6,17.3],[9.2,17.0],[9.0,16.6],[9.2,16.5],[10.7,16.8],[11.1,16.8],[14.7,16.5],[12.1,16.2],[12.3,16.2],[13.6,16.3],[12.2,16.4],[10.7,16.4],[12.6,15.9],[11.9,15.7],[14.2,15.4],[8.2,15.2],[7.0,15.0],[6.3,15.0],[6.1,14.7],[10.1,14.9],[11.8,14.9],[12.2,14.9],[12.7,14.8],[14.6,14.7],[11.7,14.6],[9.0,14.7],[6.4,14.5],[13.3,14.4],[14.4,14.5],[7.0,14.3],[6.9,14.1],[7.9,14.1],[10.1,14.1],[12.1,13.9],[4.8,13.8],[5.7,13.7],[9.3,13.9],[9.2,13.7],[12.7,13.6],[13.2,13.5],[6.7,13.5],[2.2,13.4],[3.6,13.4],[3.6,13.1],[6.7,13.1],[5.5,13.0],[9.2,13.1],[9.5,13.1],[4.0,12.8],[8.4,12.9],[8.5,12.7],[12.0,12.7],[13.9,12.6],[10.2,12.6],[12.7,12.6],[9.2,12.3],[14.2,12.3],[5.2,12.3],[5.2,12.1],[6.6,12.2],[10.5,12.3],[10.7,12.2],[11.4,12.2],[11.5,12.1],[4.7,12.0],[6.3,12.0],[5.4,11.9],[7.7,11.9],[7.9,11.9],[10.2,11.9],[4.4,11.7],[4.7,11.7],[5.4,11.6],[6.7,11.7],[8.4,11.7],[9.9,11.8],[8.7,11.5],[6.5,11.5],[13.5,11.8],[13.9,11.6],[11.7,11.6],[9.8,11.5],[4.8,11.4],[4.8,11.2],[4.3,11.1],[4.6,10.9],[7.5,11.2],[8.4,11.2],[8.6,11.1],[8.3,11.0],[6.6,11.1],[11.7,11.1],[12.3,11.0],[13.2,10.9],[11.0,10.9],[7.9,10.8],[8.8,10.8],[3.6,10.8],[3.8,10.5],[4.0,10.4],[3.6,10.3],[6.3,10.8],[6.7,10.6],[6.7,10.4],[5.8,10.4],[9.6,10.6],[9.1,10.4],[10.7,10.7],[10.6,10.5],[11.7,10.7],[12.4,10.3],[12.2,10.2],[10.7,10.1],[10.2,10.3],[5.3,10.1],[6.8,10.1],[8.7,10.1],[5.5,9.9],[5.6,9.8],[6.6,9.8],[4.1,9.8],[3.7,9.5],[4.1,9.5],[4.5,9.4],[5.1,9.5],[10.7,9.6],[11.3,9.7],[11.1,9.3],[2.4,9.1],[3.9,9.0],[4.0,8.9],[3.3,8.8],[5.8,9.1],[6.3,9.1],[6.7,9.1],[7.1,9.1],[7.7,9.0],[8.3,9.1],[8.4,9.0],[9.4,9.2],
[27.3,27.3],[22.0,24.4],[21.8,24.0],[23.2,22.8],[17.8,20.4],[14.2,20.2],[15.7,20.0],[18.1,19.9],[13.3,19.7],[13.0,19.5],[13.5,19.5],[14.9,19.6],[15.6,19.6],[16.7,19.7],[18.7,19.7],[18.9,19.5],[14.2,19.3],[14.4,19.4],[17.3,19.2],[12.9,18.7],[13.6,18.3],[14.4,18.4],[17.2,18.3],[12.5,18.2],[12.8,18.2],[14.9,18.1],[17.8,17.3],[17.8,16.4]
];

// ---------- panel (b): mist ----------
const mistB = [
[9.2,17.8],[10.1,17.6],[13.0,18.0],[13.5,18.0],[13.9,18.1],[14.5,18.0],[15.2,18.0],[15.6,18.1],[15.9,17.9],[16.2,17.9],[16.4,17.7],[13.5,17.8],[13.4,17.6],[13.8,17.7],[14.2,17.6],[14.2,17.5],[11.5,17.6],[11.0,17.4],[11.7,17.4],[13.3,17.4],[15.0,17.4],[9.8,17.4],[11.6,17.2],[12.0,17.2],[13.6,17.2],[13.9,17.2],[13.6,17.1],[11.5,17.1],[12.0,17.1],[12.5,17.0],[12.7,17.0],[13.3,17.0],[14.7,17.0],[15.5,17.1],[15.8,17.0],[8.6,17.0],[9.1,16.9],[10.3,16.9],[11.6,16.9],[11.4,16.8],[11.7,16.8],[10.4,16.7],[11.0,16.7],
[16.2,16.5],[16.6,16.4],[15.1,16.4],[12.0,16.6],[12.5,16.6],[13.1,16.6],[13.3,16.6],[13.1,16.5],[10.5,16.5],[11.1,16.6],[11.4,16.5],[11.4,16.3],[12.0,16.3],[9.0,16.2],[8.5,16.1],[8.1,16.0],[14.7,16.2],[13.9,16.1],[13.0,16.0],[13.3,16.1],[16.4,16.0],[11.6,16.0],[11.1,15.9],[9.6,15.9],[8.9,15.8],[9.2,15.8],[9.4,15.7],[7.2,15.6],[7.4,15.6],[8.7,15.5],[12.7,15.7],[13.4,15.8],[13.8,15.6],[12.2,15.6],[11.8,15.5],[14.6,15.4],[15.9,15.5],[9.7,15.5],[10.3,15.4],[10.7,15.5],[10.4,15.2],[6.3,15.3],[8.9,15.2],[9.5,15.1],[8.3,15.1],[7.4,15.1],[10.6,15.1],[14.6,15.1],[15.0,15.1],[15.6,15.3],[13.7,15.1],
[4.2,14.8],[5.2,14.6],[5.4,14.6],[4.6,14.4],[6.4,14.8],[6.6,14.8],[7.3,14.9],[7.6,14.9],[8.3,14.9],[9.2,14.8],[9.6,14.7],[10.6,14.9],[10.8,14.7],[11.2,14.7],[11.6,14.8],[13.3,14.7],[15.7,14.9],[15.7,14.6],[10.7,14.6],[11.0,14.5],[11.4,14.5],[10.0,14.6],[9.2,14.5],[8.9,14.4],[9.5,14.4],[7.8,14.6],[6.8,14.5],[7.3,14.5],[6.6,14.4],[7.5,14.4],[8.2,14.4],[8.5,14.4],[5.7,14.3],[5.8,14.2],[4.8,14.1],[6.1,14.2],[6.3,14.2],[7.2,14.1],[7.6,14.1],[8.2,14.2],[9.0,14.3],[9.6,14.1],[10.6,14.3],[12.1,14.3],[13.9,14.4],[14.3,14.3],[14.5,14.1],
[4.4,13.8],[5.7,13.9],[6.0,13.9],[6.7,13.9],[7.0,13.9],[7.7,13.9],[7.9,13.8],[6.8,13.7],[12.7,13.8],[15.3,13.9],[14.7,13.7],[13.9,13.7],[5.7,13.5],[6.8,13.5],[7.2,13.5],[7.3,13.4],[7.8,13.5],[8.3,13.6],[8.6,13.6],[9.4,13.7],[9.7,13.7],[10.3,13.6],[10.6,13.7],[10.9,13.7],[11.7,13.5],[12.1,13.4],[4.5,13.4],[5.5,13.3],[5.9,13.3],[6.3,13.3],[7.2,13.3],[8.4,13.4],[8.9,13.4],[9.8,13.5],[10.2,13.4],[10.4,13.3],[10.7,13.3],[11.8,13.3],[12.0,13.2],[13.5,13.3],[13.7,13.4],[14.3,13.4],[2.7,13.0],[4.3,13.1],[5.8,13.1],[7.5,13.1],[9.4,13.1],[10.1,13.2],[10.4,13.1],[10.8,13.1],[11.1,13.1],[11.4,13.1],[13.5,13.0],[14.1,13.0],[15.1,13.1],[14.7,13.0],
[3.4,12.7],[5.2,12.7],[3.9,12.5],[5.7,12.8],[5.9,12.7],[6.2,12.6],[6.8,12.8],[7.2,12.8],[7.5,12.8],[7.5,12.6],[7.8,12.6],[8.3,12.6],[9.0,12.7],[9.3,12.7],[9.8,12.7],[9.9,12.5],[10.2,12.5],[10.6,12.5],[11.2,12.5],[10.5,12.8],[10.8,12.9],[11.4,12.8],[11.7,12.7],[11.7,12.6],[12.3,12.8],[12.7,12.7],[13.1,12.6],[14.1,12.7],[8.9,12.5],[6.6,12.4],[6.6,12.3],[7.9,12.4],[9.3,12.3],[9.7,12.2],[10.9,12.2],[11.2,12.3],[12.8,12.2],[3.1,12.2],[3.6,12.1],[4.5,12.1],[5.9,12.2],[6.2,12.2],[5.0,12.3],[14.1,12.1],[14.8,12.1],[7.5,12.1],
[4.0,11.9],[3.6,11.8],[3.5,11.7],[2.9,11.8],[5.6,12.0],[5.9,11.9],[5.9,11.8],[5.6,11.7],[5.3,11.6],[7.4,12.1],[7.6,12.0],[8.1,12.0],[8.7,12.1],[9.3,12.0],[9.9,12.0],[10.6,11.9],[10.9,11.9],[11.2,12.1],[11.7,11.9],[12.9,12.0],[13.3,11.9],[9.3,11.8],[8.7,11.7],[9.6,11.7],[7.7,11.7],[10.2,11.8],[10.8,11.6],[11.1,11.6],[12.1,11.7],[12.5,11.7],[12.8,11.7],[13.4,11.6],[3.0,11.5],[3.5,11.5],[2.0,11.4],[3.6,11.3],[5.0,11.5],[5.9,11.5],[7.7,11.5],[9.0,11.5],[9.3,11.5],[11.5,11.5],[13.6,11.5],[5.8,11.3],[6.6,11.4],[7.4,11.4],[7.9,11.3],[5.7,11.2],[10.4,11.4],[10.6,11.3],[11.3,11.4],[12.1,11.4],[9.4,11.3],
[4.3,11.1],[5.3,11.1],[5.8,11.1],[6.8,11.1],[7.5,10.9],[7.9,11.2],[10.6,11.1],[11.0,11.1],[11.4,11.1],[12.8,11.2],[13.0,11.0],[3.8,10.8],[4.4,10.7],[6.3,10.9],[7.5,10.8],[8.6,10.8],[9.6,10.8],[12.2,10.8],[11.0,10.8],[11.3,10.7],[12.7,10.7],[4.8,10.6],[5.3,10.7],[5.8,10.6],[6.2,10.5],[6.4,10.6],[7.2,10.7],[7.3,10.8],[7.7,10.6],[8.5,10.7],[8.9,10.5],[9.4,10.6],[11.4,10.5],[11.9,10.5],[12.1,10.4],[4.6,10.4],[3.3,10.3],[2.5,10.3],[1.4,10.2],[-0.2,10.1],[3.8,10.1],[5.1,10.4],[6.6,10.3],[8.1,10.3],[8.3,10.2],[8.7,10.3],[9.1,10.2],[11.1,10.4],[11.6,10.3],[11.8,10.3],
[2.5,10.1],[3.7,10.0],[4.3,10.1],[4.8,10.0],[4.3,9.9],[6.4,10.1],[7.4,10.1],[7.2,10.0],[7.9,10.0],[9.6,10.1],[8.8,9.9],[9.6,10.0],[10.2,9.9],[11.6,10.0],[11.7,9.9],[12.0,9.9],[12.6,9.8],[1.4,9.7],[2.4,9.6],[3.3,9.6],[6.0,9.9],[6.3,9.8],[6.7,9.8],[7.5,9.9],[7.8,9.7],[8.3,9.8],[8.7,9.7],[8.9,9.7],[10.7,9.7],[10.9,9.7],[11.1,9.7],[7.4,9.6],[7.9,9.6],[9.0,9.6],[9.4,9.5],[6.7,9.5],[7.0,9.5],[8.2,9.5],[8.4,9.5],[8.9,9.4],[4.4,9.3],[4.8,9.4],[5.3,9.3],[7.7,9.3],[9.1,9.3],[2.1,9.1],[5.9,9.0],[7.7,9.0],[7.9,9.2],[9.6,9.2],[9.8,9.1],[10.2,9.2],[3.5,8.6],[8.5,8.7],[4.1,8.0],
[21.2,26.5],[25.9,26.2],[24.9,25.6],[24.7,25.3],[25.2,25.3],[23.9,25.2],[23.7,25.0],[23.4,24.8],[24.8,24.9],[24.0,24.5],[24.1,24.4],[19.9,23.9],[22.3,23.8],[20.8,23.4],[21.0,23.4],[24.3,23.1],[23.6,22.9],[23.9,22.5],[24.2,21.8],[18.6,22.6],[19.3,22.4],[19.9,22.3],[19.0,22.1],[17.6,22.0],[17.8,22.0],[19.1,21.8],[19.5,21.8],[17.0,21.8],[14.7,21.7],[18.7,21.5],[21.1,21.7],[20.1,21.5],[21.0,21.3],[20.5,21.2],[22.4,21.1],[16.4,21.2],[16.9,21.1],[17.8,21.2],[17.8,21.0],[16.9,20.8],[17.5,20.7],[20.2,20.9],[20.9,20.8],[19.8,20.6],[18.2,20.6],[20.9,20.6],[16.5,20.6],[17.2,20.5],[18.8,20.4],[13.7,20.5],[14.5,20.5],[14.9,20.3],[17.9,20.1],[18.8,20.1],[15.8,20.1],[14.9,20.1],[19.5,19.9],[20.9,19.7],[17.4,20.0],[17.4,19.8],[18.2,19.8],[18.3,19.6],[19.4,19.5],[16.5,19.8],[16.9,19.6],[14.5,19.8],[14.8,19.9],[14.0,19.8],[13.9,19.6],[15.8,19.7],[16.0,19.5],[16.5,19.6],[17.3,19.4],[17.6,19.5],[16.0,19.3],[16.5,19.3],[16.7,19.2],[18.8,19.2],[14.5,19.2],[15.0,19.2],[14.8,19.0],[12.7,19.0],[12.9,19.1],[16.0,18.8],[16.4,18.7],[16.9,18.7],[17.4,18.8],[18.0,18.7],[19.7,18.6],[19.2,18.5],[13.9,18.7],[15.9,18.7],[12.2,18.4],[13.4,18.3],[15.1,18.3],[15.7,18.3],[16.4,18.5],[16.9,18.4],[17.9,18.3],[17.1,17.8],[17.7,17.7],[17.6,16.9],[18.1,16.8],[16.7,16.4]
];

const FONT = "DejaVu Sans";
const BASE_W = 4207;
const BASE_H = 2509;
const GRIDS = [
  { left: 608, top: 113, width: 1601, height: 2186 },
  { left: 2529, top: 113, width: 1602, height: 2186 },
];

function buildOption() {
  const panels = [
    { all: allA, fog: fogA, mist: mistA },
    { all: allB, fog: fogB, mist: mistB },
  ];
  const grid = GRIDS.map((g) => ({
    ...g,
    show: true,
    borderColor: "#000",
    borderWidth: 3,
    backgroundColor: "#fff",
    containLabel: false,
  }));
  const xAxis = GRIDS.map((_, i) => ({
    gridIndex: i,
    type: "value",
    min: xRange[0],
    max: xRange[1],
    interval: tickStep,
    name: xAxisName,
    nameLocation: "middle",
    nameGap: 99,
    nameTextStyle: { fontSize: 79, fontFamily: FONT, color: "#000" },
    axisLine: { show: true, onZero: false, lineStyle: { color: "#000", width: 3 } },
    axisTick: { show: true, inside: false, length: 14, lineStyle: { color: "#000", width: 3 } },
    axisLabel: { fontSize: 62, fontFamily: FONT, color: "#000", margin: 23 },
    splitLine: { show: true, showMinLine: false, showMaxLine: false, lineStyle: { color: "#b0b0b0", width: 3 } },
  }));
  const yAxis = GRIDS.map((_, i) => ({
    gridIndex: i,
    type: "value",
    min: yRange[0],
    max: yRange[1],
    interval: tickStep,
    name: yAxisNames[i],
    nameLocation: "middle",
    nameGap: 128,
    nameTextStyle: { fontSize: 79, fontFamily: FONT, color: "#000" },
    axisLine: { show: true, onZero: false, lineStyle: { color: "#000", width: 3 } },
    axisTick: { show: true, inside: false, length: 14, lineStyle: { color: "#000", width: 3 } },
    axisLabel: { fontSize: 62, fontFamily: FONT, color: "#000", margin: 29 },
    splitLine: { show: true, showMinLine: false, showMaxLine: false, lineStyle: { color: "#b0b0b0", width: 3 } },
  }));
  const series: any[] = [];
  panels.forEach((p, i) => {
    series.push({
      type: "scatter", name: legendNames[0], xAxisIndex: i, yAxisIndex: i, data: p.all,
      symbol: "circle", symbolSize: 7, itemStyle: { color: "#4682B4", opacity: 0.48 }, z: 2, silent: true,
    });
    series.push({
      type: "scatter", name: legendNames[1], xAxisIndex: i, yAxisIndex: i, data: p.fog,
      symbol: "rect", symbolSize: 17, itemStyle: { color: "#483D8B" }, z: 3, silent: true,
    });
    series.push({
      type: "scatter", name: legendNames[2], xAxisIndex: i, yAxisIndex: i, data: p.mist,
      symbol: "triangle", symbolSize: [17, 16], itemStyle: { color: "#FF00FF" }, z: 4, silent: true,
    });
    series.push({
      type: "line", xAxisIndex: i, yAxisIndex: i, data: zeroLine, showSymbol: false, symbol: "none",
      lineStyle: { color: "#FF0000", width: 5.5 }, z: 5, silent: true,
    });
    series.push({
      type: "line", xAxisIndex: i, yAxisIndex: i, data: oneToOneLine, showSymbol: false, symbol: "none",
      lineStyle: { color: "#FF8C00", width: 5.5, type: [40, 10, 6, 10] }, z: 5, silent: true,
    });
  });

  const legendRows = [224, 317, 410];
  const graphic: any[] = [
    { type: "text", x: 583, y: 67, style: { text: panelTitles[0], fontSize: 79, fontFamily: FONT, fill: "#000", align: "left", verticalAlign: "middle" } },
    { type: "text", x: 2504, y: 67, style: { text: panelTitles[1], fontSize: 79, fontFamily: FONT, fill: "#000", align: "left", verticalAlign: "middle" } },
    { type: "rect", shape: { x: 40, y: 168, width: 467, height: 298, r: 14 }, style: { fill: "rgba(255,255,255,0.8)", stroke: "#cccccc", lineWidth: 3 } },
    { type: "circle", shape: { cx: 129, cy: legendRows[0], r: 21 }, style: { fill: "#4682B4" } },
    { type: "rect", shape: { x: 108, y: legendRows[1] - 21, width: 43, height: 43 }, style: { fill: "#483D8B" } },
    { type: "polygon", shape: { points: [[129, legendRows[2] - 21], [109, legendRows[2] + 19], [149, legendRows[2] + 19]] }, style: { fill: "#FF00FF" } },
  ];
  legendNames.forEach((n, k) => {
    graphic.push({ type: "text", x: 243, y: legendRows[k], style: { text: n, fontSize: 62, fontFamily: FONT, fill: "#000", align: "left", verticalAlign: "middle" } });
  });

  return {
    animation: false,
    backgroundColor: "#fff",
    textStyle: { fontFamily: FONT },
    grid,
    xAxis,
    yAxis,
    series,
    graphic,
  };
}

export default function App() {
  const ref = useRef<HTMLDivElement>(null);
  const vw = typeof window !== "undefined" ? window.innerWidth : BASE_W;
  const vh = typeof window !== "undefined" ? window.innerHeight : BASE_H;
  const s = Math.min(vw / BASE_W, vh / BASE_H) || 1;
  useEffect(() => {
    document.body.style.margin = "0";
    document.body.style.overflow = "hidden";
    if (!ref.current) return;
    const chart = echarts.init(ref.current, null, { renderer: "svg" });
    chart.setOption(buildOption() as any);
    return () => chart.dispose();
  }, []);
  return (
    <div style={{ position: "fixed", left: 0, top: 0, width: "100vw", height: "100vh", overflow: "hidden", background: "#fff" }}>
      <div
        ref={ref}
        style={{
          position: "absolute",
          left: 0,
          top: 0,
          width: BASE_W,
          height: BASE_H,
          transform: `scale(${s})`,
          transformOrigin: "0 0",
          background: "#fff",
        }}
      />
    </div>
  );
}
